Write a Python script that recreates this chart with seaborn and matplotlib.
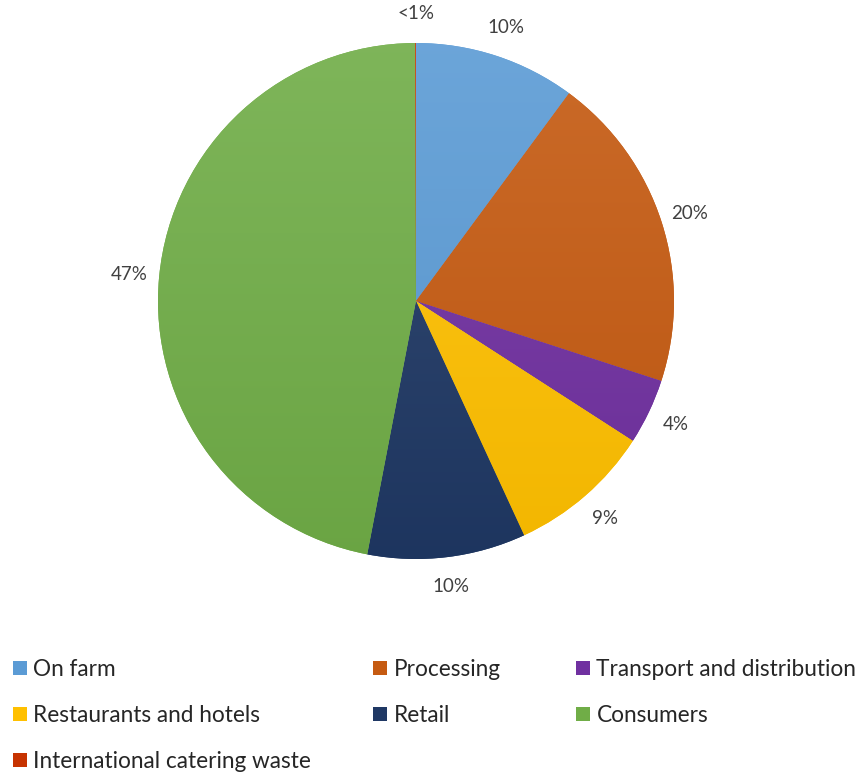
import numpy as np
import matplotlib
matplotlib.use("Agg")
import matplotlib.pyplot as plt
import matplotlib.colors as mcolors
import seaborn as sns

categories = ["On farm", "Processing", "Transport and distribution",
              "Restaurants and hotels", "Retail", "Consumers",
              "International catering waste"]
values = [10.1, 19.9, 4.1, 9.0, 9.9, 46.9, 0.05]
pct_labels = ["10%", "20%", "4%", "9%", "10%", "47%", "<1%"]
colors = ["#5B9BD5", "#C55A11", "#7030A0", "#FFC000", "#1F3864", "#70AD47", "#C63300"]

sns.set_theme(style="white")
plt.rcParams["font.family"] = ["Lato", "DejaVu Sans"]

W, H = 859, 772
fig = plt.figure(figsize=(W / 100, H / 100), dpi=100)
fig.patch.set_facecolor("white")

cx, cy, R = 416, 301, 258
ax = fig.add_axes([(cx - R) / W, (H - cy - R) / H, 2 * R / W, 2 * R / H])
ax.set_facecolor("none")

wedges, _ = ax.pie(values, colors=colors, startangle=90, counterclock=False,
                   radius=1, wedgeprops=dict(linewidth=0))

# subtle vertical gradient per slice (lighter top, darker bottom)
t = np.linspace(0, 1, 256)[:, None, None]
for w, c in zip(wedges, colors):
    rgb = np.array(mcolors.to_rgb(c))[None, None, :]
    top = rgb + (1 - rgb) * 0.10
    bot = rgb * 0.95
    img = top * (1 - t) + bot * t
    im = ax.imshow(img, extent=(-1, 1, -1, 1), origin="upper", aspect="auto",
                   zorder=w.get_zorder() + 0.1, interpolation="bilinear")
    im.set_clip_path(w)

ax.set_xlim(-1, 1)
ax.set_ylim(-1, 1)
ax.set_aspect("equal")
ax.axis("off")

for w, lab in zip(wedges, pct_labels):
    mid = np.deg2rad((w.theta1 + w.theta2) / 2)
    d = 1.115
    ax.text(d * np.cos(mid), d * np.sin(mid), lab, ha="center", va="center",
            fontsize=13.5, color="#404040", clip_on=False)

# legend laid out in three columns (row-major order as in reference)
col_groups = [[0, 3, 6], [1, 4], [2, 5]]
col_x = [13, 373, 576]
for grp, x in zip(col_groups, col_x):
    fig.legend([wedges[i] for i in grp], [categories[i] for i in grp],
               loc="upper left", bbox_to_anchor=(x / W, 1 - 659 / H),
               frameon=False, fontsize=16.3, borderpad=0, borderaxespad=0,
               handlelength=0.62, handleheight=0.62, handletextpad=0.28,
               labelspacing=1.1, labelcolor="#262626")

fig.savefig("out.png", dpi=100, facecolor="white")
